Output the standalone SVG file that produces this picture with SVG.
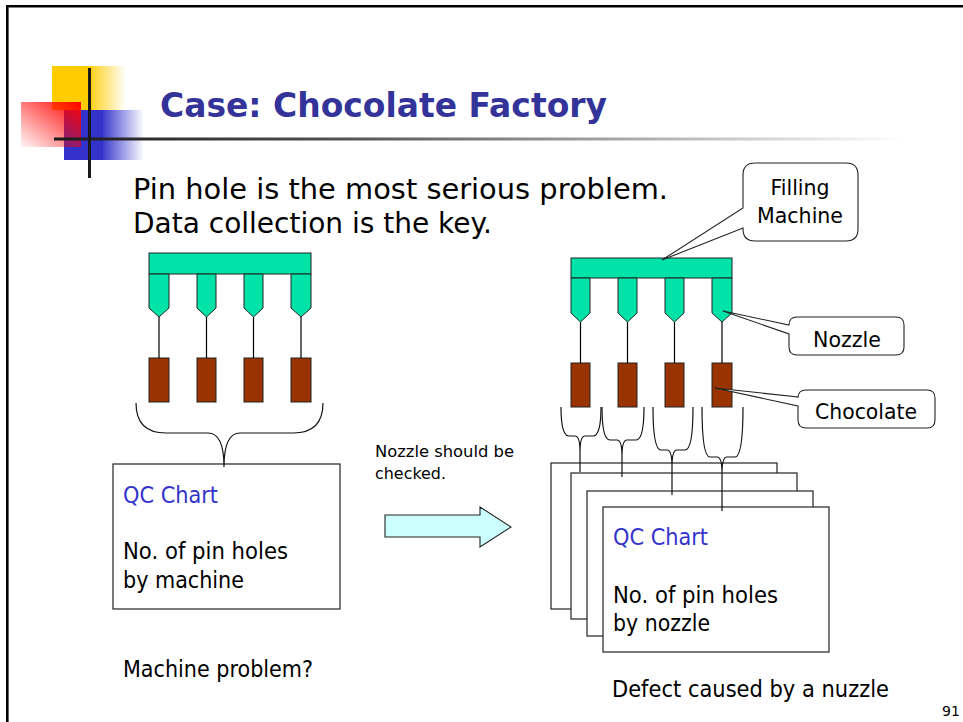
<svg xmlns="http://www.w3.org/2000/svg" width="963" height="722" viewBox="0 0 963 722">
  <defs>
    <linearGradient id="fadeYellow" x1="0" y1="0" x2="1" y2="0">
      <stop offset="0" stop-color="#FFCC00" stop-opacity="0.85"/>
      <stop offset="1" stop-color="#FFCC00" stop-opacity="0"/>
    </linearGradient>
    <linearGradient id="fadeBlue" x1="0" y1="0" x2="1" y2="0">
      <stop offset="0" stop-color="#3333CC" stop-opacity="0.95"/>
      <stop offset="1" stop-color="#3333CC" stop-opacity="0"/>
    </linearGradient>
    <linearGradient id="fadeRed" x1="1" y1="0" x2="0" y2="1">
      <stop offset="0" stop-color="#FF0000"/>
      <stop offset="1" stop-color="#FF0000" stop-opacity="0.03"/>
    </linearGradient>
    <linearGradient id="fadeRule" x1="0" y1="0" x2="1" y2="0">
      <stop offset="0" stop-color="#1a1a1a"/>
      <stop offset="0.35" stop-color="#555555"/>
      <stop offset="1" stop-color="#FFFFFF"/>
    </linearGradient>
    <style>
      .txt { font-family: "DejaVu Sans", "Liberation Sans", sans-serif; fill: #000; }
      .title { font-family: "DejaVu Sans", "Liberation Sans", sans-serif; font-weight: bold; fill: #333399; }
      .qc { fill: #3333CC; }
      .bar { fill: #00E3A8; stroke: #222; stroke-width: 1; }
      .choc { fill: #993300; stroke: #222; stroke-width: 1; }
      .box { fill: #fff; stroke: #222; stroke-width: 1.2; }
      .callout { fill: #fff; stroke: #222; stroke-width: 1.1; }
      .stem { stroke: #000; stroke-width: 1.2; fill: none; }
      .brace { stroke: #111; stroke-width: 1.2; fill: none; }
    </style>
  </defs>

  <rect width="963" height="722" fill="#fff"/>

  <!-- page frame -->
  <path d="M7.3,722 V6.2 H963" fill="none" stroke="#000" stroke-width="2.6"/>

  <!-- title ornament -->
  <g id="ornament">
    <rect x="52" y="66" width="40" height="44" fill="#FFCC00"/>
    <rect x="92" y="66" width="34" height="44" fill="url(#fadeYellow)"/>
    <rect x="64" y="110" width="39" height="50" fill="#3333CC"/>
    <rect x="103" y="110" width="41" height="50" fill="url(#fadeBlue)"/>
    <rect x="21" y="102" width="60" height="45" fill="url(#fadeRed)"/>
    <rect x="54" y="137.5" width="852" height="3" fill="url(#fadeRule)"/>
    <rect x="88" y="68" width="3" height="110" fill="#1a1a1a"/>
  </g>

  <text id="title" class="title" x="160" y="117" font-size="33" textLength="447" lengthAdjust="spacingAndGlyphs">Case: Chocolate Factory</text>

  <g id="intro">
    <text class="txt" x="133" y="199" font-size="28" textLength="535" lengthAdjust="spacingAndGlyphs">Pin hole is the most serious problem.</text>
    <text class="txt" x="133" y="233" font-size="28" textLength="359" lengthAdjust="spacingAndGlyphs">Data collection is the key.</text>
  </g>

  <!-- left filling machine -->
  <g id="machine-left">
    <rect class="bar" x="149" y="253" width="162" height="21"/>
    <path class="bar" d="M149,274 H169 V308 L159,317 L149,308 Z"/>
    <path class="bar" d="M197,274 H216 V308 L206.5,317 L197,308 Z"/>
    <path class="bar" d="M244,274 H263 V308 L253.5,317 L244,308 Z"/>
    <path class="bar" d="M291,274 H311 V308 L301,317 L291,308 Z"/>
  </g>
  <g id="chocolates-left">
    <rect class="choc" x="149" y="358" width="20" height="44"/>
    <rect class="choc" x="197" y="358" width="19" height="44"/>
    <rect class="choc" x="244" y="358" width="19" height="44"/>
    <rect class="choc" x="291" y="358" width="20" height="44"/>
  </g>

  <!-- right filling machine -->
  <g id="machine-right">
    <rect class="bar" x="571" y="258" width="161" height="20"/>
    <path class="bar" d="M571,278 H590 V313 L580.5,322 L571,313 Z"/>
    <path class="bar" d="M618,278 H637 V313 L627.5,322 L618,313 Z"/>
    <path class="bar" d="M665,278 H684 V313 L674.5,322 L665,313 Z"/>
    <path class="bar" d="M712,278 H732 V313 L722,322 L712,313 Z"/>
  </g>
  <g id="chocolates-right">
    <rect class="choc" x="571" y="363" width="19" height="44"/>
    <rect class="choc" x="618" y="363" width="19" height="44"/>
    <rect class="choc" x="665" y="363" width="19" height="44"/>
    <rect class="choc" x="712" y="363" width="20" height="44"/>
  </g>

  <!-- QC chart by machine -->
  <g id="qc-machine">
    <rect class="box" x="113" y="464" width="227" height="145"/>
    <text class="txt qc" x="123" y="503" font-size="23" textLength="95" lengthAdjust="spacingAndGlyphs">QC Chart</text>
    <text class="txt" x="123" y="559" font-size="23" textLength="165" lengthAdjust="spacingAndGlyphs">No. of pin holes</text>
    <text class="txt" x="123" y="588" font-size="23" textLength="121" lengthAdjust="spacingAndGlyphs">by machine</text>
  </g>
  <text id="note-machine" class="txt" x="123" y="677" font-size="23" textLength="190" lengthAdjust="spacingAndGlyphs">Machine problem?</text>

  <!-- stacked QC charts by nozzle -->
  <g id="qc-nozzle">
    <rect class="box" x="551" y="463" width="226" height="146"/>
    <rect class="box" x="571" y="473" width="226" height="146"/>
    <rect class="box" x="587" y="491" width="226" height="145"/>
    <rect class="box" x="603" y="507" width="226" height="145"/>
    <text class="txt qc" x="613" y="545" font-size="23" textLength="95" lengthAdjust="spacingAndGlyphs">QC Chart</text>
    <text class="txt" x="613" y="603" font-size="23" textLength="165" lengthAdjust="spacingAndGlyphs">No. of pin holes</text>
    <text class="txt" x="613" y="631" font-size="23" textLength="97" lengthAdjust="spacingAndGlyphs">by nozzle</text>
  </g>
  <text id="note-nozzle" class="txt" x="612" y="697" font-size="23" textLength="277" lengthAdjust="spacingAndGlyphs">Defect caused by a nuzzle</text>

  <!-- arrow between the two charts -->
  <g id="arrow">
    <path d="M385,515 H480 V507 L511,527 L480,547 V537 H385 Z" fill="#CCFFFF" stroke="#222" stroke-width="1.1"/>
    <text class="txt" x="375" y="457" font-size="16" textLength="139" lengthAdjust="spacingAndGlyphs">Nozzle should be</text>
    <text class="txt" x="375" y="479" font-size="16" textLength="71" lengthAdjust="spacingAndGlyphs">checked.</text>
  </g>

  <!-- callouts -->
  <g id="callout-filling">
    <path class="callout" d="M755,163 H846 Q858,163 858,175 V229 Q858,241 846,241 H755 Q743,241 743,229 V228 L662,260 L743,208 V175 Q743,163 755,163 Z"/>
    <text class="txt" x="800" y="195" font-size="22" text-anchor="middle" textLength="59" lengthAdjust="spacingAndGlyphs">Filling</text>
    <text class="txt" x="800" y="223" font-size="22" text-anchor="middle" textLength="86" lengthAdjust="spacingAndGlyphs">Machine</text>
  </g>
  <g id="callout-nozzle">
    <path class="callout" d="M797,317 H896 Q904,317 904,325 V347 Q904,355 896,355 H797 Q789,355 789,347 V334 L723,311 L789,325 Q789,317 797,317 Z"/>
    <text class="txt" x="847" y="347" font-size="22" text-anchor="middle" textLength="68" lengthAdjust="spacingAndGlyphs">Nozzle</text>
  </g>
  <g id="callout-chocolate">
    <path class="callout" d="M806,390 H927 Q935,390 935,398 V420 Q935,428 927,428 H806 Q798,428 798,420 V406 L715,388 L798,397 V398 Q798,390 806,390 Z"/>
    <text class="txt" x="866" y="419" font-size="22" text-anchor="middle" textLength="102" lengthAdjust="spacingAndGlyphs">Chocolate</text>
  </g>

  <text id="page-number" class="txt" x="942" y="716" font-size="14">91</text>

  <!-- connectors: nozzle stems and grouping braces -->
  <g id="connectors">
    <path class="stem" d="M159,317 V358 M206.5,317 V358 M253.5,317 V358"/>
    <path class="stem" d="M301,317 V358" stroke-width="2.6"/>
    <path class="stem" d="M580.5,322 V363 M627.5,322 V363 M674.5,322 V363 M722,322 V363"/>

    <path class="brace" d="M136,403 Q136,433 166,433 H208 Q224,433 224,467 Q224,433 240,433 H293 Q323,433 323,403"/>

    <path class="brace" d="M561,407 Q561,436 569,436 H575 Q580,436 580,452 V472 M580,452 Q580,436 585,436 H593 Q601,436 601,407"/>
    <path class="brace" d="M602,407 Q602,440 610,440 H617 Q622,440 622,456 V477 M622,456 Q622,440 627,440 H636 Q644,440 644,407"/>
    <path class="brace" d="M653,407 Q653,450 661,450 H667 Q672,450 672,466 V495 M672,466 Q672,450 677,450 H685 Q693,450 693,407"/>
    <path class="brace" d="M702,407 Q702,457 710,457 H717 Q722,457 722,473 V511 M722,473 Q722,457 727,457 H735 Q743,457 743,407"/>
  </g>
</svg>
